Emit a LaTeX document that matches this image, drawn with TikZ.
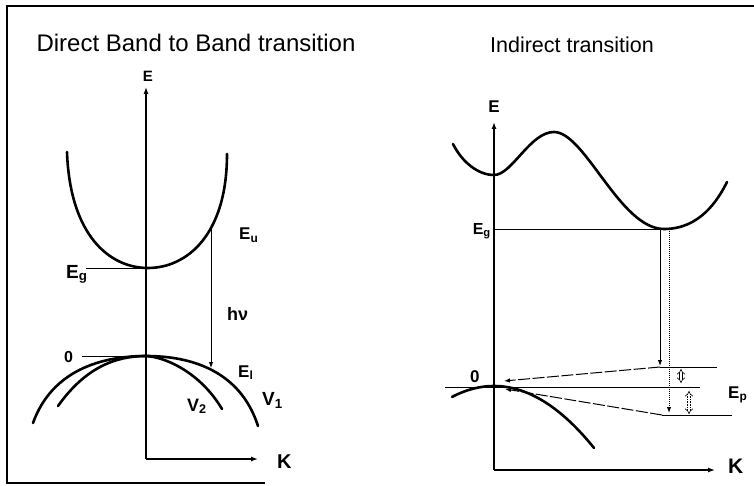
\documentclass[tikz,border=0pt]{standalone}
\usepackage{fontspec}
\setmainfont{Liberation Sans}
\usetikzlibrary{arrows.meta}

\begin{document}
\begin{tikzpicture}[x=1pt, y=-1pt,
  band/.style={line width=2.6pt, line cap=round},
  axis/.style={line width=1.3pt, -{Latex[length=7pt,width=5pt]}},
  level/.style={line width=0.9pt},
  trans/.style={line width=1pt, -{Latex[length=6pt,width=4.5pt]}},
  phonon/.style={line width=1pt, dash pattern=on 12pt off 2.5pt, -{Latex[length=6pt,width=4.5pt]}},
  swing/.style={double, double distance=2.2pt, line width=0.6pt, {Implies}-{Implies}},
  title/.style={inner sep=0, font=\fontsize{24}{28}\selectfont},
  lbl/.style={inner sep=0, font=\bfseries\fontsize{#1}{#1}\selectfont},
  lbl/.default=17
]
\useasboundingbox (0,0) rectangle (754,486);

% frame
\draw[line width=1.8pt] (754,6) -- (7,6) -- (7,483) -- (265,483);

\node[title, anchor=base] (dtitle) at (196,52) {Direct Band to Band transition};
\node[title, font=\fontsize{21.5}{26}\selectfont, anchor=base] (ititle) at (572,53) {Indirect transition};

% direct
\coordinate (o1) at (146,459);
\coordinate (e1) at (146,87);
\coordinate (k1) at (258,459);
\draw[axis] (o1) -- (e1);
\draw[axis] (o1) -- (k1);
\node[lbl=15, anchor=base] (E1) at (148,82) {E};
\node[lbl=20, anchor=base west] (K1) at (277,468) {K};

\draw[band] (67,152) .. controls (70,236) and (110,268) .. (148,268)
  .. controls (186,268) and (227,236) .. (227,154);
\draw[band] (33,423) .. controls (52,370) and (102,356) .. (146,356)
  .. controls (190,356) and (240,370) .. (258,426);
\draw[band] (58,406) .. controls (85,368) and (115,356) .. (146,356)
  .. controls (165,357) and (200,372) .. (222,409);

\coordinate (eg1) at (86,268);
\coordinate (cbmin1) at (146,268);
\draw[level] (eg1) -- (cbmin1);
\node[lbl=19, anchor=base west] (Eg1) at (66,278) {E\textsubscript{g}};

\coordinate (z1) at (82,356);
\coordinate (vbtop1) at (146,356);
\draw[level] (z1) -- (vbtop1);
\node[lbl=16, anchor=base west] (zero1) at (64,362) {0};

\coordinate (Eu) at (211,229);
\coordinate (El) at (211,368);
\draw[trans] (Eu) -- (El);
\node[lbl, anchor=base west] (Eulbl) at (239,240) {E\textsubscript{u}};
\node[lbl=18, anchor=base west] (hnu) at (227,320) {hν};
\node[lbl, anchor=base west] (Ellbl) at (238,377) {E\textsubscript{l}};
\node[lbl=18, anchor=base west] (V2) at (187,411) {V\textsubscript{2}};
\node[lbl=19, anchor=base west] (V1) at (262,405) {V\textsubscript{1}};

% indirect
\coordinate (o2) at (494,470);
\coordinate (e2) at (494,122);
\coordinate (k2) at (715,470);
\draw[axis] (o2) -- (e2);
\draw[axis] (o2) -- (k2);
\node[lbl, anchor=base] (E2) at (494,113) {E};
\node[lbl=21, anchor=base west] (K2) at (728,473) {K};

\draw[band] (453,144) .. controls (462,162) and (478,175) .. (494,175)
  .. controls (512,175) and (530,132) .. (554,132)
  .. controls (585,132) and (620,229) .. (664,229)
  .. controls (700,229) and (718,200) .. (727,182);
\draw[band] plot[domain=-42:100, samples=40, smooth] ({494+\x},{386+0.0062*\x*\x});

\coordinate (eg2) at (494,229);
\coordinate (cbmin2) at (664,229);
\draw[level] (eg2) -- (cbmin2);
\node[lbl=16, anchor=base east] (Eg2) at (491,234) {E\textsubscript{g}};

\coordinate (t1) at (660,229);
\coordinate (t1end) at (660,366);
\coordinate (t2) at (669,229);
\coordinate (t2end) at (669,413);
\draw[trans] (t1) -- (t1end);
\draw[trans, densely dotted] (t2) -- (t2end);

\coordinate (up) at (660,367);
\coordinate (upend) at (717,367);
\coordinate (mid0) at (445,387);
\coordinate (mid1) at (700,387);
\coordinate (low) at (662,415);
\coordinate (lowend) at (732,415);
\draw[level] (up) -- (upend);
\draw[level] (mid0) -- (mid1);
\draw[level] (low) -- (lowend);

\coordinate (vb1) at (504,381);
\coordinate (vb2) at (505,389);
\draw[phonon] (up) -- (vb1);
\draw[phonon] (low) -- (vb2);

\coordinate (s1a) at (681,369);
\coordinate (s1b) at (681,383);
\coordinate (s2a) at (689,391);
\coordinate (s2b) at (689,414);
\draw[swing] (s1a) -- (s1b);
\draw[swing, densely dotted] (s2a) -- (s2b);

\node[lbl, anchor=base west] (Ep) at (728,398) {E\textsubscript{p}};
\node[lbl, anchor=base west] (zero2) at (470,382) {0};
\end{tikzpicture}
\end{document}
